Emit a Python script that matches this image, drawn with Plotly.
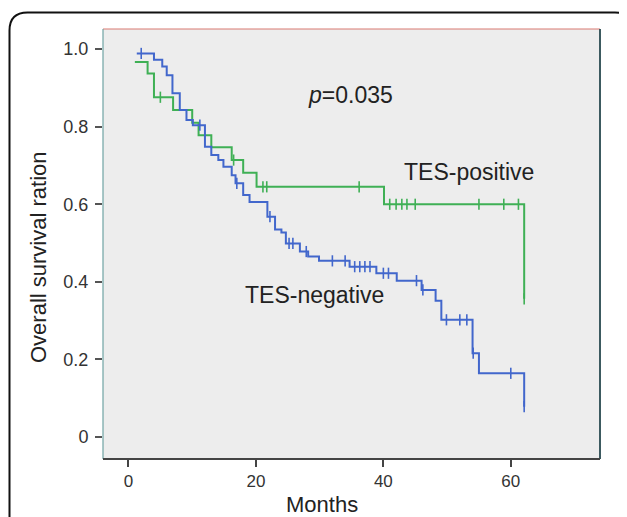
import plotly.graph_objects as go

# ---- data (months, survival proportion) ----
neg_times = [1.3, 4.0, 5.3, 6.0, 6.9, 8.05, 9.1, 10.1, 12.0, 13.0, 14.1, 14.9, 16.2, 16.8,
             18.0, 19.0, 21.8, 23.0, 24.0, 24.7, 26.9, 28.2, 29.9, 34.7, 38.9, 42.1,
             46.0, 48.2, 49.1, 54.0, 55.0, 62.1]
neg_surv = [0.989, 0.973, 0.955, 0.933, 0.886, 0.843, 0.817, 0.804, 0.748, 0.727, 0.714, 0.697,
            0.675, 0.654, 0.624, 0.606, 0.568, 0.535, 0.527, 0.499, 0.478, 0.465, 0.454, 0.439,
            0.422, 0.403, 0.379, 0.351, 0.302, 0.216, 0.164, 0.078]
neg_censored = [2.0, 11.2, 17.0, 22.2, 25.2, 25.8, 27.9, 32.0, 34.0, 35.5, 36.3, 37.1, 37.9,
                40.0, 40.8, 45.2, 46.2, 49.9, 52.0, 53.1, 54.1, 60.0, 62.1]

pos_times = [1.0, 3.0, 4.0, 7.0, 10.0, 11.0, 13.0, 16.2, 18.0, 20.1, 40.1, 62.1]
pos_surv = [0.967, 0.937, 0.876, 0.843, 0.810, 0.778, 0.747, 0.714, 0.681, 0.645, 0.600, 0.356]
pos_censored = [5.0, 16.5, 21.1, 21.7, 36.2, 41.0, 42.0, 42.9, 43.7, 45.0, 55.0, 58.9, 61.2, 62.1]

x_ticks = [0, 20, 40, 60]
y_ticks = [0, 0.2, 0.4, 0.6, 0.8, 1.0]
y_tick_text = ["0", "0.2", "0.4", "0.6", "0.8", "1.0"]

BLUE = "#4267cc"
GREEN = "#3fb055"


def step_value(times, surv, t):
    v = surv[0]
    for ti, si in zip(times, surv):
        if ti <= t + 1e-9:
            v = si
    return v


fig = go.Figure()

for times, surv, cens, col in [(pos_times, pos_surv, pos_censored, GREEN),
                               (neg_times, neg_surv, neg_censored, BLUE)]:
    fig.add_trace(go.Scatter(x=times, y=surv, mode="lines", line_shape="hv",
                             line=dict(color=col, width=2), hoverinfo="skip"))
    fig.add_trace(go.Scatter(x=cens, y=[step_value(times, surv, c) for c in cens],
                             mode="markers",
                             marker=dict(symbol="line-ns", size=8,
                                         line=dict(color=col, width=1.6)),
                             hoverinfo="skip"))

# page offset (body margin) compensation
OFF = 8
W, H = 627 - OFF, 517 - OFF
L, R, T, B = 103 - OFF, 27, 29 - OFF, 58
PW, PH = W - L - R, H - T - B


def px(xp):  # page pixel -> paper
    return (xp - OFF - L) / PW


def py(yp):
    return (H - B - (yp - OFF)) / PH


# outer rounded frame
xl, xr, yt, yb, rad = 9.5, 629, 12.5, 560, 14
path = (f"M {px(xl)},{py(yb)} L {px(xl)},{py(yt + 18)} "
        f"Q {px(xl)},{py(yt)} {px(xl + 18)},{py(yt)} "
        f"L {px(xr - rad)},{py(yt)} Q {px(xr)},{py(yt)} {px(xr)},{py(yt + rad)} "
        f"L {px(xr)},{py(yb)}")
shapes = [
    dict(type="path", xref="paper", yref="paper", path=path,
         line=dict(color="#111111", width=2), layer="above"),
    dict(type="line", xref="paper", yref="paper", x0=0, x1=1, y0=1, y1=1,
         line=dict(color="#d97a72", width=1.2)),
    dict(type="line", xref="paper", yref="paper", x0=1, x1=1, y0=0, y1=1,
         line=dict(color="#3c5a60", width=2)),
    dict(type="line", xref="paper", yref="paper", x0=0, x1=0, y0=0, y1=1,
         line=dict(color="#6fa3a3", width=1.2)),
    dict(type="line", xref="paper", yref="paper", x0=0, x1=1, y0=0, y1=0,
         line=dict(color="#444444", width=2)),
]

font_family = "Liberation Sans, Arial, sans-serif"
annotations = [
    dict(text="<i>p</i>=0.035", x=34.9, y=0.881, xref="x", yref="y", showarrow=False,
         font=dict(size=23, color="#222222", family=font_family)),
    dict(text="TES-positive", x=42.9, y=0.683, xref="x", yref="y", showarrow=False,
         xanchor="left", font=dict(size=23, color="#222222", family=font_family)),
    dict(text="TES-negative", x=17.9, y=0.366, xref="x", yref="y", showarrow=False,
         xanchor="left", font=dict(size=23, color="#222222", family=font_family)),
    dict(text="Months", x=px(322), y=py(504), xref="paper", yref="paper", showarrow=False,
         xanchor="center", yanchor="middle",
         font=dict(size=22, color="#222222", family=font_family)),
    dict(text="Overall survival ration", x=px(39), y=py(257), xref="paper", yref="paper",
         showarrow=False, textangle=-90, xanchor="center", yanchor="middle",
         font=dict(size=22, color="#222222", family=font_family)),
]

fig.update_layout(
    width=W, height=H,
    margin=dict(l=L, r=R, t=T, b=B, pad=0),
    paper_bgcolor="white",
    plot_bgcolor="#ededed",
    showlegend=False,
    shapes=shapes,
    annotations=annotations,
    font=dict(family=font_family, size=17, color="#333333"),
    xaxis=dict(range=[-4, 74], tickvals=x_ticks, ticks="outside", ticklen=7,
               tickcolor="#444444", tickwidth=1.5, showgrid=False, zeroline=False,
               showline=False, tickfont=dict(size=17, color="#333333")),
    yaxis=dict(range=[-0.057, 1.052], tickvals=y_ticks, ticktext=y_tick_text,
               ticks="outside", ticklen=7, tickcolor="#555555", tickwidth=1.5,
               ticklabelstandoff=3,
               showgrid=False, zeroline=False, showline=False,
               tickfont=dict(size=18, color="#333333")),
)

fig.write_html("out.html")
